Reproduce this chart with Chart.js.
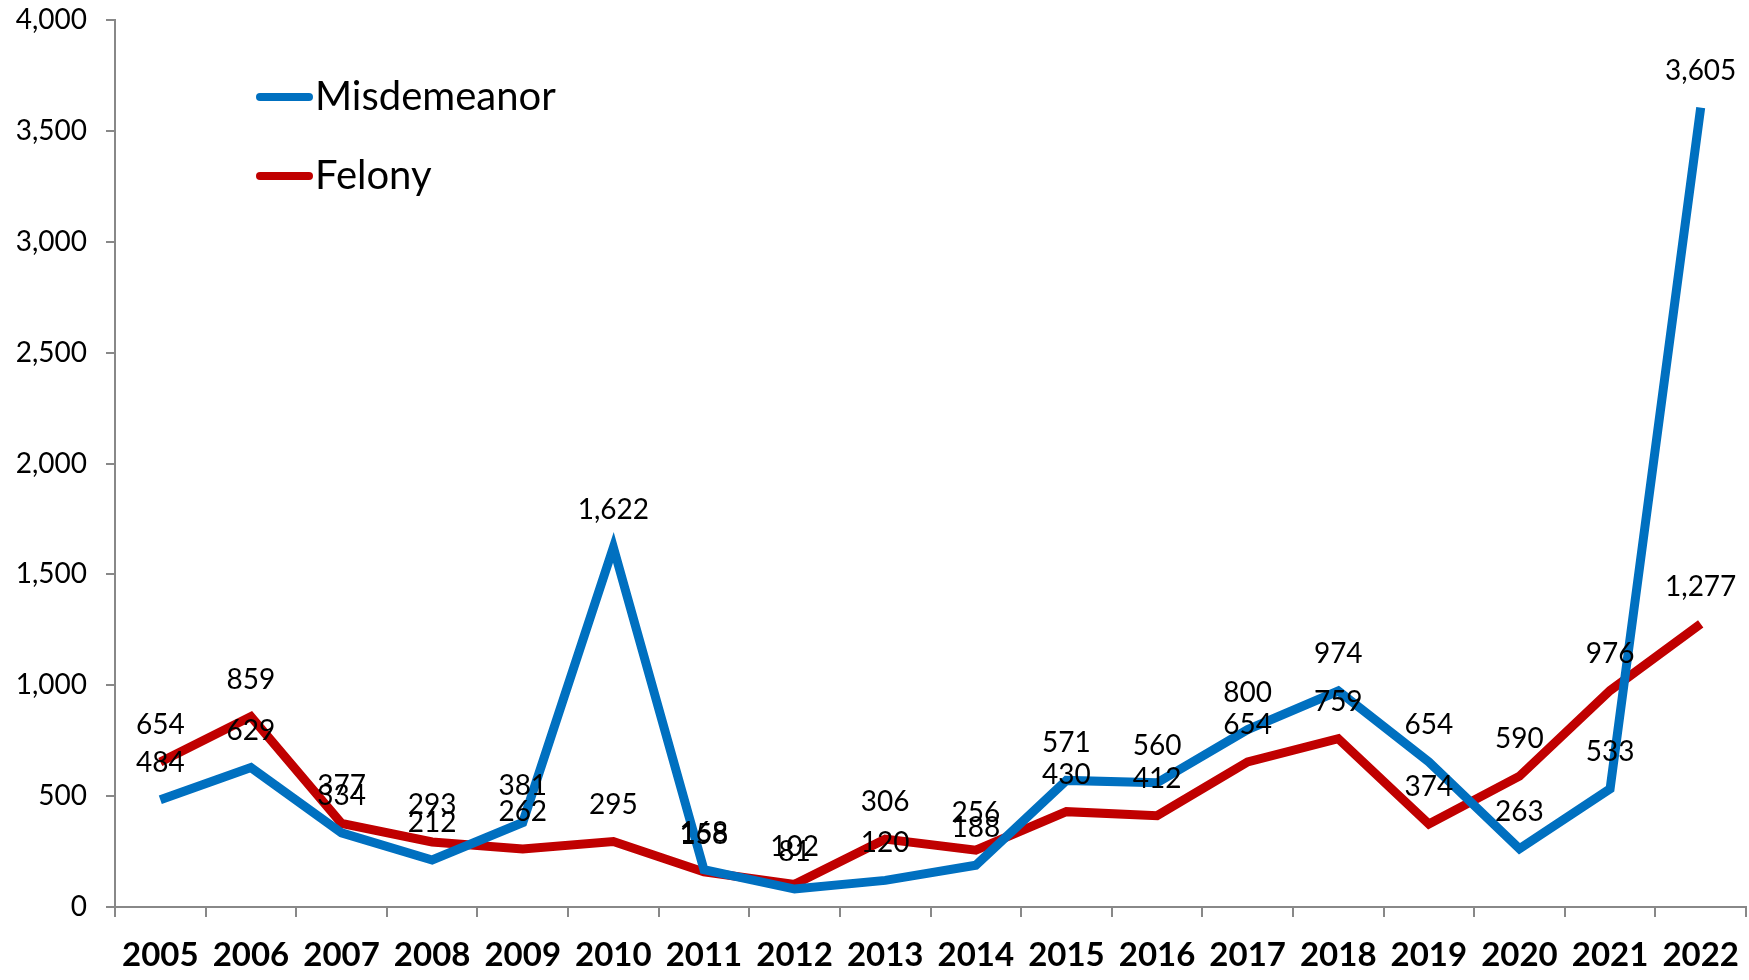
<!DOCTYPE html>
<html>
<head>
<meta charset="utf-8">
<script src="https://cdn.jsdelivr.net/npm/chart.js@4"></script>
<style>
  html, body { margin: 0; padding: 0; background: #fff; }
  #wrap { width: 1749px; height: 980px; }
</style>
</head>
<body>
<div id="wrap"><canvas id="chart" width="1749" height="980"></canvas></div>
<script>
var years = ['2005','2006','2007','2008','2009','2010','2011','2012','2013','2014','2015','2016','2017','2018','2019','2020','2021','2022'];
var misdemeanor = [484, 629, 334, 212, 381, 1622, 168, 81, 120, 188, 571, 560, 800, 974, 654, 263, 533, 3605];
var felony = [654, 859, 377, 293, 262, 295, 158, 102, 306, 256, 430, 412, 654, 759, 374, 590, 976, 1277];
var yTicks = [0, 500, 1000, 1500, 2000, 2500, 3000, 3500, 4000];

var fmt = function (v) { return v.toLocaleString('en-US'); };

// value labels above each point
var pointLabels = {
    id: 'pointLabels',
    afterDatasetsDraw: function (chart) {
        var ctx = chart.ctx;
        ctx.save();
        ctx.font = '28px Lato';
        ctx.fillStyle = '#000';
        ctx.textAlign = 'center';
        ctx.textBaseline = 'middle';
        chart.data.datasets.forEach(function (ds, i) {
            chart.getDatasetMeta(i).data.forEach(function (pt, j) {
                ctx.fillText(fmt(ds.data[j]), pt.x, pt.y - 37);
            });
        });
        ctx.restore();
    }
};

// legend drawn inside the plot, top left
var sideLegend = {
    id: 'sideLegend',
    afterDraw: function (chart) {
        var ctx = chart.ctx;
        ctx.save();
        ctx.font = '40px Lato';
        ctx.textBaseline = 'middle';
        ctx.lineCap = 'round';
        ctx.lineWidth = 8;
        chart.data.datasets.forEach(function (ds, i) {
            var y = 97 + i * 79;
            ctx.strokeStyle = ds.borderColor;
            ctx.beginPath();
            ctx.moveTo(260, y);
            ctx.lineTo(309, y);
            ctx.stroke();
            ctx.fillStyle = '#000';
            ctx.fillText(ds.label, 315, y);
        });
        ctx.restore();
    }
};

new Chart(document.getElementById('chart'), {
    type: 'line',
    data: {
        labels: years,
        datasets: [
            {
                label: 'Misdemeanor',
                data: misdemeanor,
                borderColor: '#0070C0',
                borderWidth: 9,
                pointRadius: 0,
                tension: 0,
            },
            {
                label: 'Felony',
                data: felony,
                borderColor: '#C00000',
                borderWidth: 9,
                pointRadius: 0,
                tension: 0,
            },
        ],
    },
    options: {
        responsive: false,
        animation: false,
        layout: { padding: { top: 20, right: 3, left: 0, bottom: 0 } },
        plugins: {
            legend: { display: false },
            tooltip: { enabled: false },
        },
        scales: {
            x: {
                offset: true,
                grid: { offset: true, drawOnChartArea: false, drawTicks: true, tickLength: 10, color: '#888', lineWidth: 2 },
                border: { color: '#888', width: 2 },
                ticks: { color: '#000', font: { family: 'Lato', size: 33, weight: 'bold' }, padding: 19, maxRotation: 0, autoSkip: false },
                afterFit: function (s) { s.height = 73; s.paddingLeft = 0; s.paddingRight = 0; },
            },
            y: {
                min: 0,
                max: 4000,
                afterBuildTicks: function (s) { s.ticks = yTicks.map(function (v) { return { value: v }; }); },
                grid: { drawOnChartArea: false, drawTicks: true, tickLength: 9, color: '#888', lineWidth: 2 },
                border: { color: '#888', width: 2 },
                ticks: { color: '#000', font: { family: 'Lato', size: 28 }, padding: 19, callback: function (v) { return fmt(v); } },
                afterFit: function (s) { s.width = 115; s.paddingTop = 0; s.paddingBottom = 0; },
            },
        },
    },
    plugins: [pointLabels, sideLegend],
});
</script>
</body>
</html>
